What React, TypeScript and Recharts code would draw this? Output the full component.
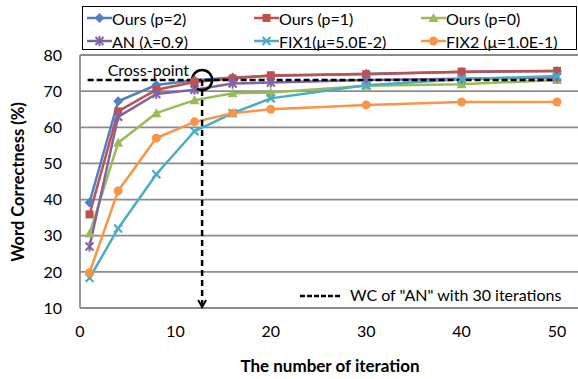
import { LineChart, Line, XAxis, YAxis, CartesianGrid, Legend, ReferenceLine, ReferenceDot } from 'recharts'

const iterations = [1, 4, 8, 12, 16, 20, 30, 40, 50]
const oursP2 = [39.2, 67.2, 71.7, 73.0, 73.8, 74.2, 74.8, 75.3, 75.6]
const oursP1 = [35.9, 64.4, 70.4, 72.5, 73.5, 74.4, 74.7, 75.4, 75.6]
const oursP0 = [30.6, 55.7, 63.9, 67.5, 69.4, 69.6, 71.5, 71.9, 73.1]
const anVals = [27.0, 62.9, 69.2, 70.4, 72.1, 72.4, 73.1, 73.4, 73.8]
const fix1 = [18.3, 32.0, 47.0, 58.9, 63.9, 68.0, 71.6, 73.3, 74.2]
const fix2 = [19.8, 42.4, 57.0, 61.5, 63.9, 65.0, 66.2, 67.0, 67.0]

const xTicks = [0, 10, 20, 30, 40, 50]
const yTicks = [10, 20, 30, 40, 50, 60, 70, 80]

// AN at 30 iterations -> cross point
const anAt30 = 73.1
const crossX = 12.8

const series = [
  { key: 'p2', name: 'Ours (p=2)', color: '#4F81BD', marker: 'diamond', values: oursP2 },
  { key: 'p1', name: 'Ours (p=1)', color: '#C0504D', marker: 'square', values: oursP1 },
  { key: 'p0', name: 'Ours (p=0)', color: '#9BBB59', marker: 'triangle', values: oursP0 },
  { key: 'an', name: 'AN (λ=0.9)', color: '#8064A2', marker: 'star', values: anVals },
  { key: 'fix1', name: 'FIX1(μ=5.0E-2)', color: '#4BACC6', marker: 'cross', values: fix1 },
  { key: 'fix2', name: 'FIX2 (μ=1.0E-1)', color: '#F79646', marker: 'circle', values: fix2 },
]

const data = iterations.map((it, i) => {
  const row: Record<string, number> = { it }
  series.forEach((s) => (row[s.key] = s.values[i]))
  return row
})

const FONT = 'Lato, "Open Sans", sans-serif'
const GRID = '#8c8c8c'

function Marker({ type, color, cx, cy }: { type: string; color: string; cx: number; cy: number }) {
  if (type === 'diamond')
    return <polygon points={`${cx},${cy - 5} ${cx + 5},${cy} ${cx},${cy + 5} ${cx - 5},${cy}`} fill={color} />
  if (type === 'square') return <rect x={cx - 4} y={cy - 4} width={8} height={8} fill={color} />
  if (type === 'triangle')
    return <polygon points={`${cx},${cy - 5} ${cx + 5},${cy + 4} ${cx - 5},${cy + 4}`} fill={color} />
  if (type === 'circle') return <circle cx={cx} cy={cy} r={4.5} fill={color} />
  if (type === 'star')
    return (
      <g stroke={color} strokeWidth={2}>
        <line x1={cx - 4} y1={cy - 4} x2={cx + 4} y2={cy + 4} />
        <line x1={cx - 4} y1={cy + 4} x2={cx + 4} y2={cy - 4} />
        <line x1={cx} y1={cy - 5} x2={cx} y2={cy + 5} />
      </g>
    )
  return (
    <g stroke={color} strokeWidth={2.2}>
      <line x1={cx - 4} y1={cy - 4} x2={cx + 4} y2={cy + 4} />
      <line x1={cx - 4} y1={cy + 4} x2={cx + 4} y2={cy - 4} />
    </g>
  )
}

function renderLegend() {
  return (
    <div
      style={{
        border: '1.5px solid #000',
        boxSizing: 'border-box',
        width: 495,
        height: 44,
        display: 'grid',
        gridTemplateColumns: '167px 167px 150px',
        gridTemplateRows: '22px 24px',
        padding: '0 0 0 4px',
        fontFamily: FONT,
        fontSize: 16,
        lineHeight: '21px',
        color: '#000',
      }}
    >
      {series.map((s) => (
        <div key={s.key} style={{ display: 'flex', alignItems: 'center', whiteSpace: 'nowrap' }}>
          <svg width={25} height={14} style={{ marginRight: 0 }}>
            <line x1={0} y1={7} x2={25} y2={7} stroke={s.color} strokeWidth={2.5} />
            <Marker type={s.marker} color={s.color} cx={12.5} cy={7} />
          </svg>
          <span>{s.name}</span>
        </div>
      ))}
    </div>
  )
}

function ArrowLine(props: any) {
  const { x1, y1, x2, y2 } = props
  return (
    <g>
      <line x1={x1} y1={y1} x2={x2} y2={y2 - 2} stroke="#000" strokeWidth={2.5} strokeDasharray="6 4" />
      <path d={`M${x2 - 4},${y2 - 8} L${x2},${y2 - 1} L${x2 + 4},${y2 - 8}`} fill="none" stroke="#000" strokeWidth={2} />
    </g>
  )
}

export default function App() {
  return (
    <div style={{ position: 'absolute', left: 0, top: 0, width: 578, height: 379, background: '#fff' }}>
      <LineChart width={578} height={379} data={data} margin={{ top: 55, right: 0, bottom: 0, left: 0 }}>
        <CartesianGrid vertical={false} stroke={GRID} strokeWidth={1.8} />
        <XAxis
          dataKey="it"
          type="number"
          domain={[0, 52.2]}
          ticks={xTicks}
          allowDataOverflow
          height={71}
          axisLine={false}
          tickLine={false}
          tickMargin={12}
          tick={{ fontSize: 16, fill: '#000', fontFamily: FONT }}
        />
        <YAxis
          domain={[10, 80]}
          ticks={yTicks}
          width={80}
          axisLine={{ stroke: GRID, strokeWidth: 1.8 }}
          tickLine={false}
          tickMargin={12}
          tick={{ fontSize: 16, fill: '#000', fontFamily: FONT }}
        />
        <Legend
          layout="horizontal"
          verticalAlign="middle"
          align="center"
          content={renderLegend}
          wrapperStyle={{ top: 6, left: 82, width: 495 }}
        />
        {series.map((s) => (
          <Line
            key={s.key}
            dataKey={s.key}
            name={s.name}
            stroke={s.color}
            strokeWidth={2.5}
            isAnimationActive={false}
            dot={(p: any) => <Marker key={`${s.key}-${p.index}`} type={s.marker} color={s.color} cx={p.cx} cy={p.cy} />}
            activeDot={false}
          />
        ))}
        <ReferenceLine
          segment={[
            { x: 0.8, y: anAt30 },
            { x: 50, y: anAt30 },
          ]}
          stroke="#000"
          strokeWidth={2.5}
          strokeDasharray="6 3"
        />
        <ReferenceLine
          segment={[
            { x: crossX, y: anAt30 },
            { x: crossX, y: 10 },
          ]}
          shape={ArrowLine}
        />
        <ReferenceDot
          x={crossX}
          y={anAt30}
          r={10}
          fill="none"
          stroke="#000"
          strokeWidth={2.5}
          label={{ value: 'Cross-point', position: 'left', offset: 3, dy: -10, fontSize: 16, fill: '#000', fontFamily: FONT }}
        />
        <line x1={300} y1={296} x2={342} y2={296} stroke="#000" strokeWidth={2.5} strokeDasharray="5 2" />
        <text x={350} y={301} fontSize={16} fontFamily={FONT} fill="#000">
          WC of "AN" with 30 iterations
        </text>
        <text
          x={24}
          y={182}
          transform="rotate(-90 24 182)"
          textAnchor="middle"
          fontSize={16.5}
          fontWeight="bold"
          fontFamily={FONT}
          fill="#000"
        >
          Word Correctness (%)
        </text>
        <text x={330} y={372} textAnchor="middle" fontSize={17} fontWeight="bold" fontFamily={FONT} fill="#000">
          The number of iteration
        </text>
      </LineChart>
    </div>
  )
}
